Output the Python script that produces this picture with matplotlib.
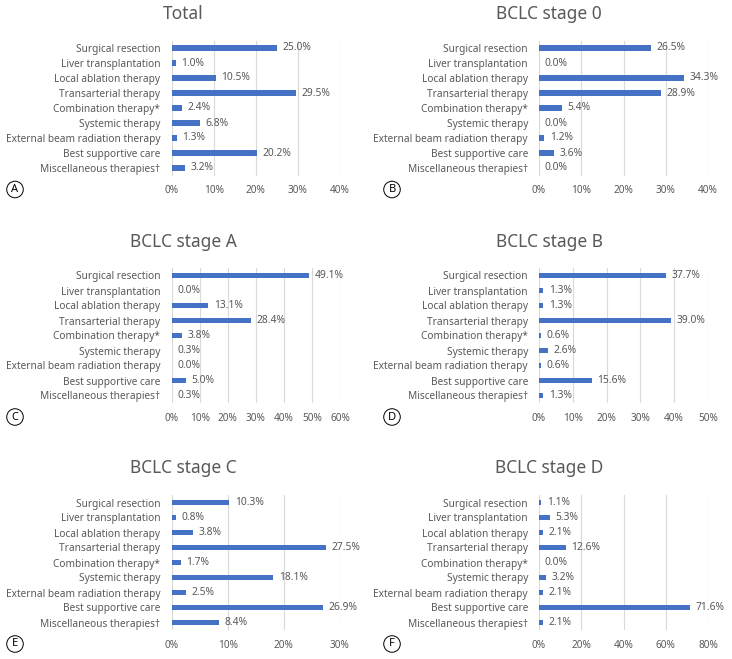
import numpy as np
import matplotlib.pyplot as plt

plt.rcParams['font.family'] = ['Noto Sans', 'DejaVu Sans']

categories = ["Surgical resection", "Liver transplantation", "Local ablation therapy",
              "Transarterial therapy", "Combination therapy*", "Systemic therapy",
              "External beam radiation therapy", "Best supportive care",
              "Miscellaneous therapies\u2020"]

total = [25.0, 1.0, 10.5, 29.5, 2.4, 6.8, 1.3, 20.2, 3.2]
stage_0 = [26.5, 0.0, 34.3, 28.9, 5.4, 0.0, 1.2, 3.6, 0.0]
stage_a = [49.1, 0.0, 13.1, 28.4, 3.8, 0.3, 0.0, 5.0, 0.3]
stage_b = [37.7, 1.3, 1.3, 39.0, 0.6, 2.6, 0.6, 15.6, 1.3]
stage_c = [10.3, 0.8, 3.8, 27.5, 1.7, 18.1, 2.5, 26.9, 8.4]
stage_d = [1.1, 5.3, 2.1, 12.6, 0.0, 3.2, 2.1, 71.6, 2.1]

titles = ["Total", "BCLC stage 0", "BCLC stage A", "BCLC stage B", "BCLC stage C", "BCLC stage D"]
letters = ["A", "B", "C", "D", "E", "F"]
series = [total, stage_0, stage_a, stage_b, stage_c, stage_d]
xmax = [40, 40, 60, 50, 30, 80]
xstep = [10, 10, 10, 10, 10, 20]

W, H = 732, 659
fig = plt.figure(figsize=(W / 100, H / 100), dpi=100)

gray = '#595959'
blue = '#4472C4'

# pixel layout of each panel
lefts = [171.5, 539]
rights = [340, 708]
tops = [40.5, 268, 495]
title_y = [14, 242, 468]

for k in range(6):
    row, col = k // 2, k % 2
    l, r = lefts[col], rights[col]
    t = tops[row]
    b = t + 135
    ax = fig.add_axes([l / W, 1 - b / H, (r - l) / W, (b - t) / H])
    vals = series[k]
    y = np.arange(len(categories))
    ax.barh(y, vals, height=0.36, color=blue, zorder=3)
    for yi, v in zip(y, vals):
        ax.annotate(f"{v:.1f}%", (v, yi), xytext=(4, 0), textcoords='offset points',
                    va='center', ha='left', fontsize=7.4, color=gray)
    ax.set_ylim(len(categories) - 0.5, -0.5)
    ax.set_xlim(0, xmax[k])
    ticks = np.arange(0, xmax[k] + 1, xstep[k])
    ax.set_xticks(ticks)
    ax.set_xticklabels([f"{tk}%" for tk in ticks], fontsize=7.2, color=gray)
    ax.set_yticks(y)
    ax.set_yticklabels(categories, fontsize=7.3, color=gray)
    ax.tick_params(length=0)
    ax.tick_params(axis='x', pad=7)
    ax.tick_params(axis='y', pad=8)
    ax.grid(axis='x', color='#D9D9D9', linewidth=0.8, zorder=0)
    for s in ax.spines.values():
        s.set_visible(False)

    cx = 183 + col * 366
    fig.text(cx / W, 1 - title_y[row] / H, titles[k], ha='center', va='center',
             fontsize=12.5, color=gray)
    lx = 15 + col * 377
    ly = b + 14
    fig.text(lx / W, 1 - ly / H, letters[k], ha='center', va='center', fontsize=8,
             color='black',
             bbox=dict(boxstyle='circle,pad=0.25', fc='white', ec='black', lw=0.7))

fig.savefig("out.png", dpi=100)
